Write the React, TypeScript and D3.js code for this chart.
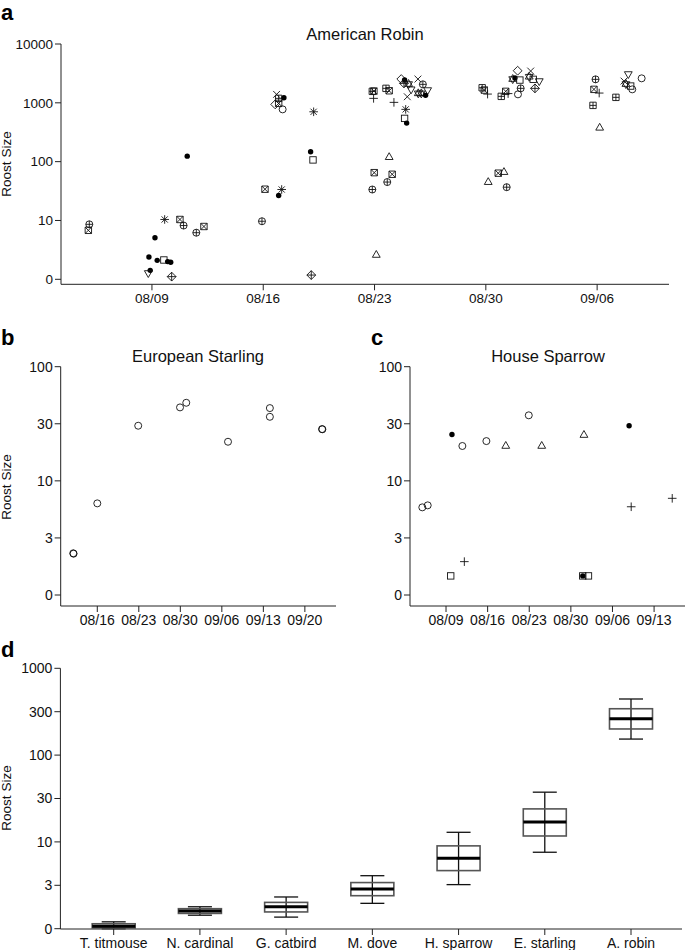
import React from "react";
import * as d3 from "d3";

// ---------- Panel a: American Robin (day = days since Jul 31) ----------
const robinDay = [5.06, 5.0, 8.81, 9.19, 9.33, 8.89, 8.77, 9.75, 9.99, 10.18, 10.24, 9.8, 10.76, 10.99, 11.22, 11.79, 12.27,
  15.92, 16.11, 16.97, 17.16, 16.84, 16.75, 16.97, 16.97, 17.3, 17.22, 19.17, 18.98, 19.13, 19.02,
  22.86, 22.96, 22.94, 23.72, 23.92, 24.22, 24.96, 24.89, 25.02, 24.68, 24.89, 24.85, 25.14, 25.06, 25.73, 26.04, 25.75, 25.94, 26.34, 26.21, 25.3,
  23.92, 22.98, 24.11, 23.8, 22.86, 23.11,
  29.77, 29.9, 30.11, 30.97, 31.25, 31.4, 32.0, 31.69, 31.83, 32.14, 32.19, 32.02, 32.82, 32.73, 32.98, 33.36, 33.09,
  30.15, 30.78, 31.14, 31.31,
  36.9, 36.8, 37.13, 36.74, 37.16, 38.18, 38.96, 38.69, 38.81, 39.11, 39.21, 39.8];
const robinSize = [8.6, 6.8, 2.4, 5.1, 2.1, 1.42, 1.28, 2.13, 2.0, 1.95, 1.11, 10.4, 10.4, 8.2, 124, 6.2, 7.9,
  9.7, 34, 26.6, 33.6, 1393, 941, 979, 1191, 1219, 774, 704, 147, 107, 1.18,
  1567, 1585, 1191, 1762, 1603, 1018, 774, 544, 452, 2536, 2438, 2143, 2085, 1268, 2536, 2061, 1449, 1449, 1648, 1340, 1700,
  119, 65, 61, 45, 33.6, 2.59,
  1803, 1648, 1409, 1288, 1567, 1437, 3514, 2536, 2637, 2438, 1762, 1393, 3470, 2775, 2507, 2344, 1762,
  44.8, 63.7, 66.3, 36.8,
  2507, 1694, 1466, 905, 376, 1239, 3085, 2344, 2085, 1928, 1694, 2608];
const robinSymbol = ["circlePlus", "squareCross", "dot", "dot", "dot", "dot", "triDown", "square", "dot", "dot", "diamondPlus", "asterisk", "squareCross", "circlePlus", "dot", "circlePlus", "squareCross",
  "circlePlus", "squareCross", "dot", "asterisk", "cross", "diamond", "squareCross", "squarePlus", "dot", "circle", "asterisk", "dot", "square", "diamondPlus",
  "squarePlus", "squareCross", "plus", "squarePlus", "squareCross", "plus", "asterisk", "square", "dot", "diamond", "dot", "diamondPlus", "davidStar", "cross", "cross", "circlePlus", "davidStar", "davidStar", "triDown", "dot", "triDown",
  "triUp", "squareCross", "squareCross", "circlePlus", "circlePlus", "triUp",
  "squarePlus", "squareCross", "plus", "squarePlus", "squareCross", "plus", "diamond", "davidStar", "dot", "square", "circlePlus", "circle", "cross", "davidStar", "square", "triDown", "diamondPlus",
  "triUp", "squareCross", "triUp", "circlePlus",
  "circlePlus", "squareCross", "plus", "squarePlus", "triUp", "squarePlus", "triDown", "cross", "davidStar", "square", "circle", "circle"];
const robinTickDays = [9, 16, 23, 30, 37];
const robinTickLabels = ["08/09", "08/16", "08/23", "08/30", "09/06"];
const robinYTicks = [1, 10, 100, 1000, 10000];
const robinYLabels = ["0", "10", "100", "1000", "10000"];

// ---------- Panel b: European Starling ----------
const starlingDay = [11.95, 12.0, 16.0, 22.9, 29.95, 31.0, 38.04, 45.1, 45.1, 53.9, 53.95];
const starlingSize = [2.32, 2.3, 6.35, 30.4, 44, 48.3, 22, 43.4, 36.4, 28.4, 28.3];
const starlingTickDays = [16, 23, 30, 37, 44, 51];
const starlingTickLabels = ["08/16", "08/23", "08/30", "09/06", "09/13", "09/20"];

// ---------- Panel c: House Sparrow ----------
const sparrowDay = [5.01, 5.92, 9.79, 10.0, 12.08, 11.75, 15.79, 19.05, 22.92, 25.1, 32.2, 32.0, 32.0, 32.96, 39.8, 40.15, 47.05];
const sparrowSize = [5.86, 6.1, 1.47, 25.5, 1.96, 20.2, 22.3, 20.2, 37.5, 20.2, 25.2, 1.47, 1.47, 1.47, 30.4, 5.93, 7.03];
const sparrowSymbol = ["circle", "circle", "square", "dot", "plus", "circle", "circle", "triUp", "circle", "triUp", "triUp", "square", "dot", "square", "dot", "plus", "plus"];
const sparrowTickDays = [9, 16, 23, 30, 37, 44];
const sparrowTickLabels = ["08/09", "08/16", "08/23", "08/30", "09/06", "09/13"];

const smallYTicks = [1, 3.162, 10, 31.62, 100];
const smallYLabels = ["0", "3", "10", "30", "100"];

// ---------- Panel d: box plots ----------
const species = ["T. titmouse", "N. cardinal", "G. catbird", "M. dove", "H. sparrow", "E. starling", "A. robin"];
const whiskerLow = [1.0, 1.43, 1.36, 1.96, 3.22, 7.6, 153];
const quart1 = [1.02, 1.5, 1.56, 2.4, 4.67, 11.7, 200];
const medians = [1.07, 1.6, 1.79, 2.87, 6.5, 17, 262];
const quart3 = [1.14, 1.7, 2.01, 3.4, 9.0, 24, 342];
const whiskerHigh = [1.2, 1.79, 2.32, 4.08, 12.9, 37.4, 443];
const boxYTicks = [1, 3.162, 10, 31.62, 100, 316.2, 1000];
const boxYLabels = ["0", "3", "10", "30", "100", "300", "1000"];

const FONT = "'Liberation Sans', Arial, Helvetica, sans-serif";
const AX = "#222";

function Marker({ type, x, y }: { type: string; x: number; y: number }) {
  const sw = 0.9;
  const common = { fill: "none", stroke: "#111", strokeWidth: sw };
  const t = `translate(${x},${y})`;
  const sq = 3.2, cr = 3.5, dm = 4.4;
  const triU = "M0,-4.5L3.9,2.3L-3.9,2.3Z";
  const triD = "M0,4.5L3.9,-2.3L-3.9,-2.3Z";
  switch (type) {
    case "dot":
      return <circle cx={x} cy={y} r={2.7} fill="#000" />;
    case "circle":
      return <circle cx={x} cy={y} r={cr} {...common} />;
    case "square":
      return <rect x={x - sq} y={y - sq} width={2 * sq} height={2 * sq} {...common} />;
    case "triUp":
      return <path transform={t} d={triU} {...common} />;
    case "triDown":
      return <path transform={t} d={triD} {...common} />;
    case "plus":
      return <path transform={t} d="M-4.3,0H4.3M0,-4.3V4.3" {...common} />;
    case "cross":
      return <path transform={t} d="M-3.4,-3.4L3.4,3.4M-3.4,3.4L3.4,-3.4" {...common} />;
    case "diamond":
      return <path transform={t} d={`M0,-${dm}L${dm},0L0,${dm}L-${dm},0Z`} {...common} />;
    case "squareCross":
      return <path transform={t} d={`M-${sq},-${sq}H${sq}V${sq}H-${sq}ZM-${sq},-${sq}L${sq},${sq}M-${sq},${sq}L${sq},-${sq}`} {...common} />;
    case "squarePlus":
      return <path transform={t} d={`M-${sq},-${sq}H${sq}V${sq}H-${sq}ZM-${sq},0H${sq}M0,-${sq}V${sq}`} {...common} />;
    case "asterisk":
      return <path transform={t} d="M-4.3,0H4.3M0,-4.3V4.3M-3.1,-3.1L3.1,3.1M-3.1,3.1L3.1,-3.1" {...common} />;
    case "diamondPlus":
      return <path transform={t} d={`M0,-${dm}L${dm},0L0,${dm}L-${dm},0ZM-${dm},0H${dm}M0,-${dm}V${dm}`} {...common} />;
    case "circlePlus":
      return (
        <g>
          <circle cx={x} cy={y} r={cr} {...common} />
          <path transform={t} d={`M-${cr},0H${cr}M0,-${cr}V${cr}`} {...common} />
        </g>
      );
    case "davidStar":
      return <path transform={t} d={triU + triD} {...common} />;
    default:
      return null;
  }
}

function YAxis({ scale, ticks, labels, x, yBottom, fontSize = 14 }: any) {
  const yTop = scale(ticks[ticks.length - 1]);
  return (
    <g>
      <line x1={x} x2={x} y1={yTop} y2={yBottom} stroke={AX} strokeWidth={1} />
      {ticks.map((t: number, i: number) => (
        <g key={i}>
          <line x1={x - 6} x2={x} y1={scale(t)} y2={scale(t)} stroke={AX} strokeWidth={1} />
          <text x={x - 8} y={scale(t)} dy="0.35em" textAnchor="end" fontSize={fontSize} fontFamily={FONT} fill="#111">
            {labels[i]}
          </text>
        </g>
      ))}
    </g>
  );
}

function XAxis({ scale, ticks, labels, y, x0, x1, fontSize = 14 }: any) {
  return (
    <g>
      <line x1={x0} x2={x1} y1={y} y2={y} stroke={AX} strokeWidth={1} />
      {ticks.map((t: any, i: number) => (
        <g key={i}>
          <line x1={scale(t)} x2={scale(t)} y1={y} y2={y + 6} stroke={AX} strokeWidth={1} />
          <text x={scale(t)} y={y + 19} textAnchor="middle" fontSize={fontSize} fontFamily={FONT} fill="#111">
            {labels[i]}
          </text>
        </g>
      ))}
    </g>
  );
}

function YLabel({ x, y }: { x: number; y: number }) {
  return (
    <text transform={`translate(${x},${y}) rotate(-90)`} textAnchor="middle" fontSize={13.5} fontFamily={FONT} fill="#111">
      Roost Size
    </text>
  );
}

function PanelLetter({ x, y, t }: { x: number; y: number; t: string }) {
  return (
    <text x={x} y={y} fontSize={22} fontWeight="bold" fontFamily={FONT} fill="#000">
      {t}
    </text>
  );
}

export default function App() {
  // Panel a scales
  const xa = d3.scaleLinear().domain([3.28, 41.52]).range([61, 669]);
  const ya = d3.scaleLog().domain([1, 10000]).range([279.3, 44]);
  // Panel b
  const xb = d3.scaleLinear().domain([9.83, 56.25]).range([60.7, 336]);
  const yb = d3.scaleLog().domain([1, 100]).range([595, 366.7]);
  // Panel c
  const xc = d3.scaleLinear().domain([2.94, 49.2]).range([410, 685]);
  const yc = d3.scaleLog().domain([1, 100]).range([595, 366.7]);
  // Panel d
  const xd = d3.scalePoint<string>().domain(species).range([113.7, 631]);
  const yd = d3.scaleLog().domain([1, 1000]).range([928.7, 668.3]);
  const boxW = 43;
  const capW = 24;

  return (
    <svg width={685} height={950} style={{ position: "absolute", left: 0, top: 0, background: "#fff" }}>
      <rect width={685} height={950} fill="#fff" />

      {/* Panel a */}
      <PanelLetter x={1} y={20} t="a" />
      <text x={365} y={40} textAnchor="middle" fontSize={16.5} fontFamily={FONT} fill="#111">American Robin</text>
      <YLabel x={11} y={164} />
      <YAxis scale={ya} ticks={robinYTicks} labels={robinYLabels} x={61} yBottom={284.3} fontSize={13.5} />
      <XAxis scale={xa} ticks={robinTickDays} labels={robinTickLabels} y={284.3} x0={61} x1={669} fontSize={13.5} />
      {robinDay.map((d, i) => (
        <Marker key={i} type={robinSymbol[i]} x={xa(d)} y={ya(robinSize[i])} />
      ))}

      {/* Panel b */}
      <PanelLetter x={1} y={345} t="b" />
      <text x={198} y={362} textAnchor="middle" fontSize={16.5} fontFamily={FONT} fill="#111">European Starling</text>
      <YLabel x={11} y={487} />
      <YAxis scale={yb} ticks={smallYTicks} labels={smallYLabels} x={60.7} yBottom={606} />
      <XAxis scale={xb} ticks={starlingTickDays} labels={starlingTickLabels} y={606} x0={60.7} x1={336} />
      {starlingDay.map((d, i) => (
        <Marker key={i} type="circle" x={xb(d)} y={yb(starlingSize[i])} />
      ))}

      {/* Panel c */}
      <PanelLetter x={371} y={345} t="c" />
      <text x={548} y={362} textAnchor="middle" fontSize={16.5} fontFamily={FONT} fill="#111">House Sparrow</text>
      <YAxis scale={yc} ticks={smallYTicks} labels={smallYLabels} x={410} yBottom={606} />
      <XAxis scale={xc} ticks={sparrowTickDays} labels={sparrowTickLabels} y={606} x0={410} x1={685} />
      {sparrowDay.map((d, i) => (
        <Marker key={i} type={sparrowSymbol[i]} x={xc(d)} y={yc(sparrowSize[i])} />
      ))}

      {/* Panel d */}
      <PanelLetter x={1} y={657} t="d" />
      <YLabel x={11} y={798} />
      <YAxis scale={yd} ticks={boxYTicks} labels={boxYLabels} x={60.4} yBottom={929} />
      <XAxis scale={xd} ticks={species} labels={species} y={929} x0={60.4} x1={682} />
      {species.map((s, i) => {
        const cx = xd(s)!;
        return (
          <g key={s}>
            <line x1={cx} x2={cx} y1={yd(whiskerLow[i])} y2={yd(whiskerHigh[i])} stroke="#111" strokeWidth={1.3} />
            <line x1={cx - capW / 2} x2={cx + capW / 2} y1={yd(whiskerHigh[i])} y2={yd(whiskerHigh[i])} stroke="#111" strokeWidth={1.3} />
            <line x1={cx - capW / 2} x2={cx + capW / 2} y1={yd(whiskerLow[i])} y2={yd(whiskerLow[i])} stroke="#111" strokeWidth={1.3} />
            <rect x={cx - boxW / 2} y={yd(quart3[i])} width={boxW} height={yd(quart1[i]) - yd(quart3[i])} fill="none" stroke="#555" strokeWidth={1.6} />
            <line x1={cx - boxW / 2} x2={cx + boxW / 2} y1={yd(medians[i])} y2={yd(medians[i])} stroke="#000" strokeWidth={3} />
          </g>
        );
      })}
    </svg>
  );
}
